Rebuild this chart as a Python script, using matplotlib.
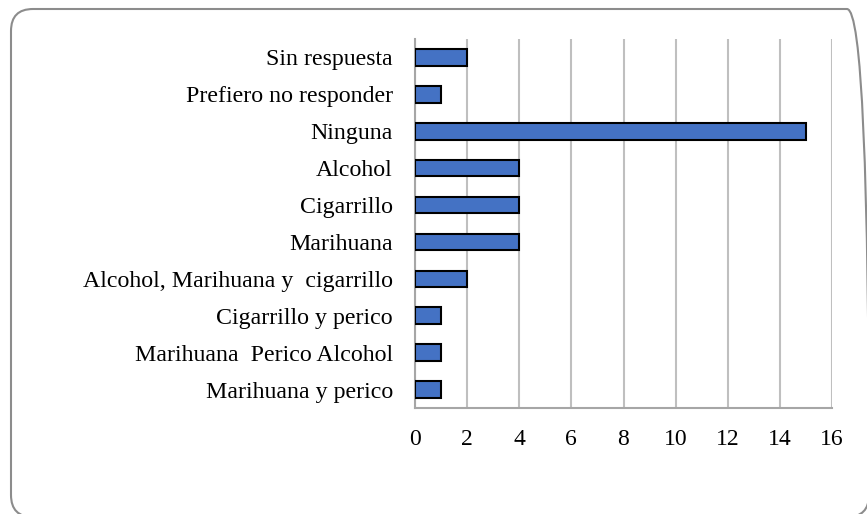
import numpy as np
import matplotlib
matplotlib.use("Agg")
import matplotlib.pyplot as plt
from matplotlib.patches import FancyBboxPatch
from matplotlib.transforms import IdentityTransform

# Data (top to bottom as shown)
categories = ["Sin respuesta", "Prefiero no responder", "Ninguna", "Alcohol",
              "Cigarrillo", "Marihuana", "Alcohol, Marihuana y  cigarrillo",
              "Cigarrillo y perico", "Marihuana  Perico Alcohol", "Marihuana y perico"]
values = [2, 1, 15, 4, 4, 4, 2, 1, 1, 1]
xticks = [0, 2, 4, 6, 8, 10, 12, 14, 16]

plt.rcParams['font.family'] = ['Liberation Serif', 'DejaVu Serif']

fig = plt.figure(figsize=(8.67, 5.14), dpi=100)
ax = fig.add_axes([415/867, 1-408/514, (832-415)/867, (408-39)/514])

y = np.arange(len(categories))[::-1]
ax.barh(y, values, height=0.45, color='#4472C4', edgecolor='black', linewidth=1.5, zorder=3)

ax.set_xlim(0, 16)
ax.set_ylim(-0.5, len(categories) - 0.5)
ax.set_xticks(xticks)
ax.set_xticklabels([str(t) for t in xticks], fontsize=17)
ax.set_yticks(y)
ax.set_yticklabels(categories, fontsize=17.2)
ax.tick_params(length=0)
ax.tick_params(axis='x', pad=15)
ax.tick_params(axis='y', pad=16)

ax.grid(axis='x', color='#BFBFBF', linewidth=1.5, zorder=0)
for s in ['top', 'right']:
    ax.spines[s].set_visible(False)
for s in ['left', 'bottom']:
    ax.spines[s].set_color('#A6A6A6')
    ax.spines[s].set_linewidth(1.5)

# Rounded chart border
border = FancyBboxPatch((11, -3), 858, 508, boxstyle="round,pad=0,rounding_size=22",
                        transform=IdentityTransform(), facecolor='none',
                        edgecolor='#8C8C8C', linewidth=1.5)
fig.patches.append(border)

fig.savefig("out.png", dpi=100)
